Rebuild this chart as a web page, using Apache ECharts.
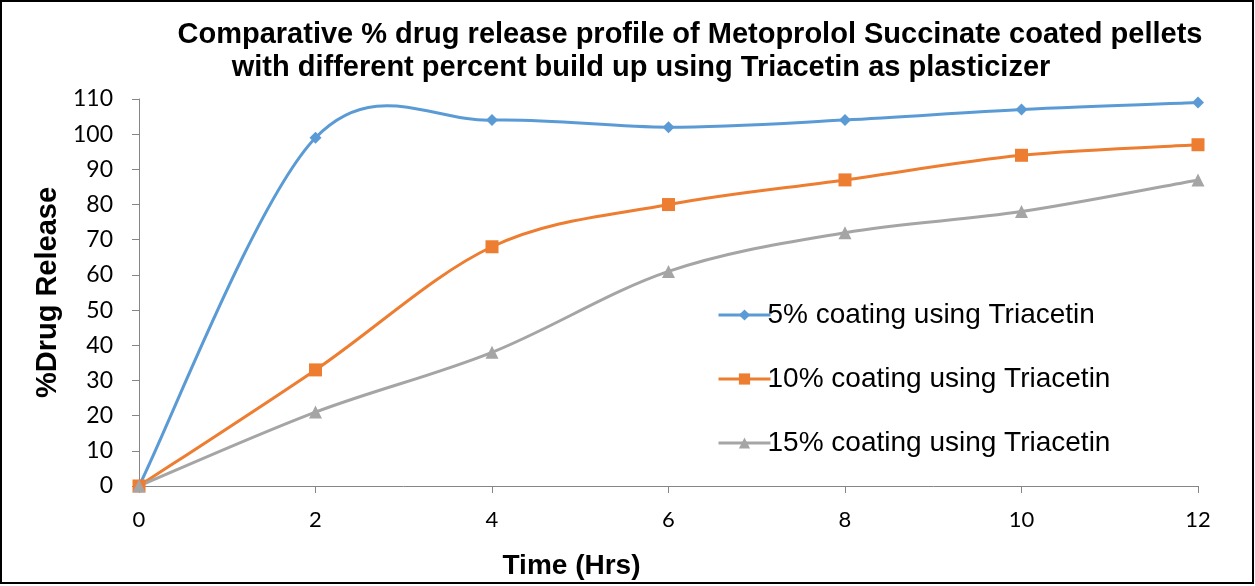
<!DOCTYPE html>
<html>
<head>
<meta charset="utf-8">
<script src="https://cdn.jsdelivr.net/npm/echarts@6/dist/echarts.min.js"></script>
<style>
html,body{margin:0;padding:0;background:#fff;}
#chart{width:1255px;height:586px;}
</style>
</head>
<body>
<div id="chart"></div>
<script>
const timeHrs = [0, 2, 4, 6, 8, 10, 12];
const coating5 = [0, 99, 104, 102, 104, 107, 109];
const coating10 = [0, 33, 68, 80, 87, 94, 97];
const coating15 = [0, 21, 38, 61, 72, 78, 87];
const seriesNames = ['5% coating using Triacetin', '10% coating using Triacetin', '15% coating using Triacetin'];
const seriesColors = ['#5B9BD5', '#ED7D31', '#A5A5A5'];
const seriesSymbols = ['diamond', 'rect', 'triangle'];
const seriesSizes = [12, 13, 13];
const titleLine1 = 'Comparative % drug release profile of Metoprolol Succinate coated pellets';
const titleLine2 = 'with different percent build up using Triacetin as plasticizer';

const allValues = [coating5, coating10, coating15];
const pair = (ys) => timeHrs.map((t, i) => [t, ys[i]]);

// Spreadsheet-style smoothed curve: each segment is a cubic Bezier through the
// data points, with control points taken from the neighbouring data points
// (converted to pixels through the chart's own axes).
function curveRenderer(ys, color) {
  return function (params, api) {
    const i = params.dataIndex;
    if (i === 0) return null;
    const n = timeHrs.length;
    const p = (k) => {
      const kk = Math.max(0, Math.min(n - 1, k));
      return api.coord([timeHrs[kk], ys[kk]]);
    };
    const p0 = p(i - 2), p1 = p(i - 1), p2 = p(i), p3 = p(i + 1);
    const t = 1 / 6;
    return {
      type: 'bezierCurve',
      shape: {
        x1: p1[0], y1: p1[1],
        cpx1: p1[0] + (p2[0] - p0[0]) * t, cpy1: p1[1] + (p2[1] - p0[1]) * t,
        cpx2: p2[0] - (p3[0] - p1[0]) * t, cpy2: p2[1] - (p3[1] - p1[1]) * t,
        x2: p2[0], y2: p2[1]
      },
      style: {stroke: color, lineWidth: 3, fill: null, lineCap: 'round'},
      silent: true
    };
  };
}

const series = [];
allValues.forEach((ys, s) => {
  series.push({
    name: seriesNames[s] + ' (curve)', type: 'custom', data: pair(ys), z: 1,
    renderItem: curveRenderer(ys, seriesColors[s]), clip: false
  });
});
allValues.forEach((ys, s) => {
  series.push({
    name: seriesNames[s], type: 'line', data: pair(ys), z: 3,
    symbol: seriesSymbols[s], symbolSize: seriesSizes[s],
    lineStyle: {color: seriesColors[s], width: 3, opacity: 0},
    itemStyle: {color: seriesColors[s]}
  });
});

const chart = echarts.init(document.getElementById('chart'), null, {renderer: 'canvas'});
const axisFont = 'Lato';
chart.setOption({
  animation: false,
  backgroundColor: '#fff',
  title: [
    {text: titleLine1, left: 685, top: 15, textAlign: 'center',
     textStyle: {fontFamily: 'Liberation Sans', fontWeight: 'bold', fontSize: 29, color: '#000'}},
    {text: titleLine2, left: 636, top: 48, textAlign: 'center',
     textStyle: {fontFamily: 'Liberation Sans', fontWeight: 'bold', fontSize: 29, color: '#000'}}
  ],
  graphic: [
    {type: 'rect', shape: {x: 1, y: 1, width: 1252, height: 582},
     style: {fill: 'none', stroke: '#000', lineWidth: 2}, silent: true}
  ],
  legend: {
    orient: 'vertical',
    left: 712, top: 296,
    itemWidth: 52, itemHeight: 14, itemGap: 36,
    textStyle: {fontFamily: 'Liberation Sans', fontSize: 28, color: '#000', padding: [0, 0, 0, -8]},
    data: seriesNames.map((nm, s) => ({
      name: nm,
      lineStyle: {color: seriesColors[s], width: 3, opacity: 1},
      itemStyle: {color: seriesColors[s]}
    }))
  },
  grid: {left: 139, right: 57, top: 99, bottom: 100, containLabel: false},
  xAxis: {
    type: 'value', min: 0, max: 12, interval: 2,
    name: 'Time (Hrs)', nameLocation: 'middle', nameGap: 66,
    nameTextStyle: {fontFamily: 'Liberation Sans', fontWeight: 'bold', fontSize: 28, color: '#000', padding: [0, 194, 0, 0]},
    axisLine: {lineStyle: {color: '#868686', width: 1}},
    axisTick: {show: true, length: 7, inside: false, lineStyle: {color: '#868686'}},
    axisLabel: {fontFamily: axisFont, fontSize: 22, color: '#000', margin: 23},
    splitLine: {show: false}
  },
  yAxis: {
    type: 'value', min: 0, max: 110, interval: 10,
    name: '%Drug Release', nameLocation: 'middle', nameGap: 76, nameRotate: 90,
    nameTextStyle: {fontFamily: 'Liberation Sans', fontWeight: 'bold', fontSize: 29, color: '#000'},
    axisLine: {show: true, lineStyle: {color: '#868686', width: 1}},
    axisTick: {show: true, length: 7, lineStyle: {color: '#868686'}},
    axisLabel: {fontFamily: axisFont, fontSize: 23, color: '#000', margin: 26},
    splitLine: {show: false}
  },
  series: series
});
</script>
</body>
</html>
